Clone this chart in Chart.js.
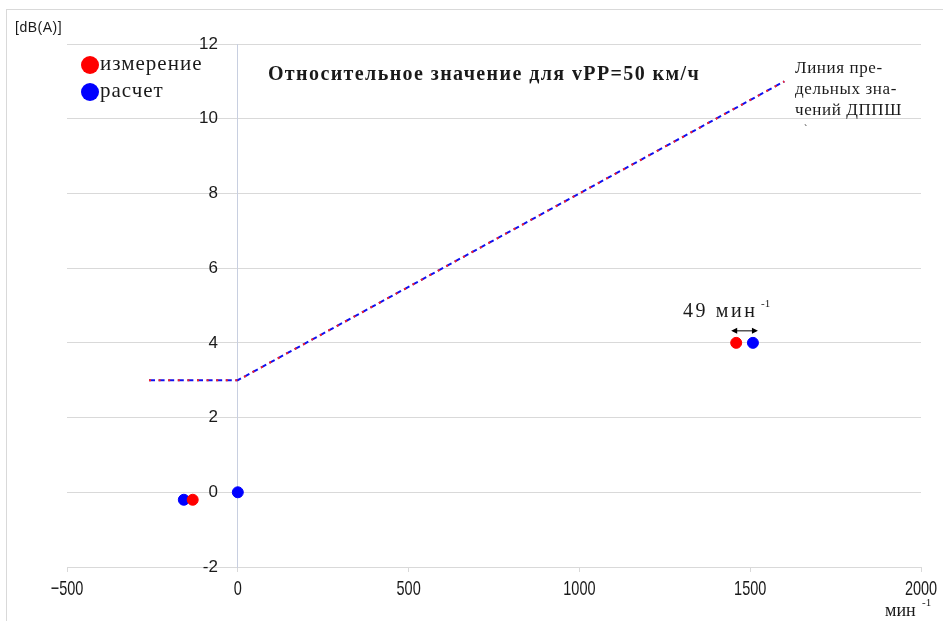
<!DOCTYPE html>
<html>
<head>
<meta charset="utf-8">
<script src="https://cdn.jsdelivr.net/npm/chart.js@4/dist/chart.umd.min.js"></script>
<style>
  body { margin: 0; background: #fff; }
  #wrap { width: 943px; height: 621px; }
</style>
</head>
<body>
<div id="wrap"><canvas id="myChart" width="943" height="621"></canvas></div>
<script>
// данные
const xTicks = [-500, 0, 500, 1000, 1500, 2000];
const yTicks = [-2, 0, 2, 4, 6, 8, 10, 12];

// линия предельных значений ДППШ
const limitX = [-260, 0, 1600];
const limitY = [3, 3, 11];

// измерение (красные точки)
const measX = [-132, 1459];
const measY = [-0.2, 4];

// расчет (синие точки)
const calcX = [-158, 0, 1508];
const calcY = [-0.2, 0, 4];

const seriesNames = ['измерение', 'расчет'];
const seriesColors = ['#ff0000', '#0000ff'];

function toPoints(xs, ys) {
    let pts = [];
    for (let i = 0; i < xs.length; i++) {
        pts.push({ x: xs[i], y: ys[i] });
    }
    return pts;
}

const serif = '"Liberation Serif", "Times New Roman", serif';
const sans = '"Liberation Sans", Arial, sans-serif';

// подписи и рамка рисуются поверх графика
const annotations = {
    id: 'annotations',
    beforeDraw(chart) {
        const ctx = chart.ctx;
        ctx.save();
        ctx.strokeStyle = '#d9d9d9';
        ctx.lineWidth = 1;
        ctx.strokeRect(6.5, 9.5, 1000, 1000);
        ctx.restore();
    },
    afterDraw(chart) {
        const ctx = chart.ctx;
        const xs = chart.scales.x;
        const ys = chart.scales.y;
        ctx.save();
        ctx.fillStyle = '#1a1a1a';
        ctx.textBaseline = 'middle';

        // подписи оси X (узкий шрифт)
        ctx.textAlign = 'center';
        ctx.font = '21px ' + sans;
        for (let i = 0; i < xTicks.length; i++) {
            const px = xs.getPixelForValue(xTicks[i]);
            ctx.save();
            ctx.translate(px, 589);
            ctx.scale(0.69, 1);
            ctx.fillText(String(xTicks[i]).replace('-', '\u2212'), 0, 0);
            ctx.restore();
        }

        // единицы по оси Y
        ctx.font = '14px ' + sans;
        ctx.textAlign = 'left';
        ctx.letterSpacing = '0.5px';
        ctx.fillText('[dB(A)]', 15, 28);

        // заголовок
        ctx.font = 'bold 20px ' + serif;
        ctx.letterSpacing = '1.4px';
        ctx.textAlign = 'center';
        ctx.fillText('Относительное значение для vPP=50 км/ч', 484, 75);

        // легенда
        ctx.textAlign = 'left';
        ctx.letterSpacing = '1px';
        ctx.font = '21px ' + serif;
        for (let i = 0; i < seriesNames.length; i++) {
            const cy = 65 + i * 27;
            ctx.beginPath();
            ctx.fillStyle = seriesColors[i];
            ctx.arc(90, cy, 9, 0, Math.PI * 2);
            ctx.fill();
            ctx.fillStyle = '#1a1a1a';
            ctx.fillText(seriesNames[i], 100, cy - 1);
        }

        // подпись линии
        ctx.font = '17px ' + serif;
        ctx.letterSpacing = '0.6px';
        ctx.fillText('Линия пре-', 795, 69);
        ctx.fillText('дельных зна-', 795, 90);
        ctx.fillText('чений ДППШ', 795, 111);
        ctx.letterSpacing = '0px';
        ctx.font = '10px ' + serif;
        ctx.fillText('`', 804, 129);

        // разница 49 мин-1
        const x1 = xs.getPixelForValue(measX[1]);
        const x2 = xs.getPixelForValue(calcX[2]);
        const ay = ys.getPixelForValue(4) - 12;
        ctx.font = '20px ' + serif;
        ctx.letterSpacing = '2.6px';
        ctx.fillText('49 мин', 683, 312);
        ctx.letterSpacing = '0px';
        ctx.font = '11px ' + serif;
        ctx.fillText('-1', 761, 304);

        ctx.strokeStyle = '#000';
        ctx.lineWidth = 1;
        ctx.beginPath();
        ctx.moveTo(x1 - 3, ay);
        ctx.lineTo(x2 + 3, ay);
        ctx.stroke();
        ctx.fillStyle = '#000';
        ctx.beginPath();
        ctx.moveTo(x1 - 5, ay);
        ctx.lineTo(x1 + 1, ay - 3);
        ctx.lineTo(x1 + 1, ay + 3);
        ctx.fill();
        ctx.beginPath();
        ctx.moveTo(x2 + 5, ay);
        ctx.lineTo(x2 - 1, ay - 3);
        ctx.lineTo(x2 - 1, ay + 3);
        ctx.fill();

        // единицы по оси X
        ctx.fillStyle = '#1a1a1a';
        ctx.font = '18px ' + serif;
        ctx.fillText('мин', 885, 611);
        ctx.font = '11px ' + serif;
        ctx.fillText('-1', 922, 603);
        ctx.restore();
    }
};

const ctx = document.getElementById('myChart').getContext('2d');

const data = {
    datasets: [
        {
            label: 'limit-red',
            data: toPoints(limitX, limitY),
            showLine: true,
            borderColor: '#ff2020',
            borderWidth: 2,
            borderDash: [2, 7.6],
            pointRadius: 0,
            fill: false
        },
        {
            label: 'limit-blue',
            data: toPoints(limitX, limitY),
            showLine: true,
            borderColor: '#1010f0',
            borderWidth: 2,
            borderDash: [6, 3.6],
            pointRadius: 0,
            fill: false
        },
        {
            label: seriesNames[0],
            data: toPoints(measX, measY),
            backgroundColor: seriesColors[0],
            borderColor: seriesColors[0],
            pointRadius: 5.5,
            pointHoverRadius: 5.5
        },
        {
            label: seriesNames[1],
            data: toPoints(calcX, calcY),
            backgroundColor: seriesColors[1],
            borderColor: seriesColors[1],
            pointRadius: 5.5,
            pointHoverRadius: 5.5
        }
    ]
};

const options = {
    responsive: false,
    animation: false,
    devicePixelRatio: 1,
    layout: { padding: { left: 67, right: 22, top: 44, bottom: 0 } },
    plugins: {
        legend: { display: false },
        tooltip: { enabled: false }
    },
    scales: {
        x: {
            type: 'linear',
            min: xTicks[0],
            max: xTicks[xTicks.length - 1],
            afterBuildTicks: function (scale) {
                scale.ticks = xTicks.map(v => ({ value: v }));
            },
            afterFit: function (scale) {
                scale.height = 54;
            },
            grid: {
                drawOnChartArea: false,
                drawTicks: true,
                tickLength: 5,
                color: '#d9d9d9'
            },
            border: { display: true, color: '#d9d9d9' },
            ticks: { display: false }
        },
        y: {
            type: 'linear',
            position: { x: 0 },
            min: yTicks[0],
            max: yTicks[yTicks.length - 1],
            afterBuildTicks: function (scale) {
                scale.ticks = yTicks.map(v => ({ value: v }));
            },
            grid: {
                color: '#d9d9d9',
                drawTicks: false
            },
            border: { display: true, color: '#c8cfe0' },
            ticks: { display: false }
        },
        // ось только для подписей, сдвинута левее нуля
        yLabels: {
            type: 'linear',
            axis: 'y',
            position: { x: -58 },
            min: yTicks[0],
            max: yTicks[yTicks.length - 1],
            afterBuildTicks: function (scale) {
                scale.ticks = yTicks.map(v => ({ value: v }));
            },
            grid: { display: false },
            border: { display: false },
            ticks: {
                color: '#1a1a1a',
                font: { family: sans, size: 17 },
                callback: function (v) { return String(v); }
            }
        }
    }
};

const chart = new Chart(ctx, {
    type: 'scatter',
    data: data,
    options: options,
    plugins: [annotations]
});
</script>
</body>
</html>
